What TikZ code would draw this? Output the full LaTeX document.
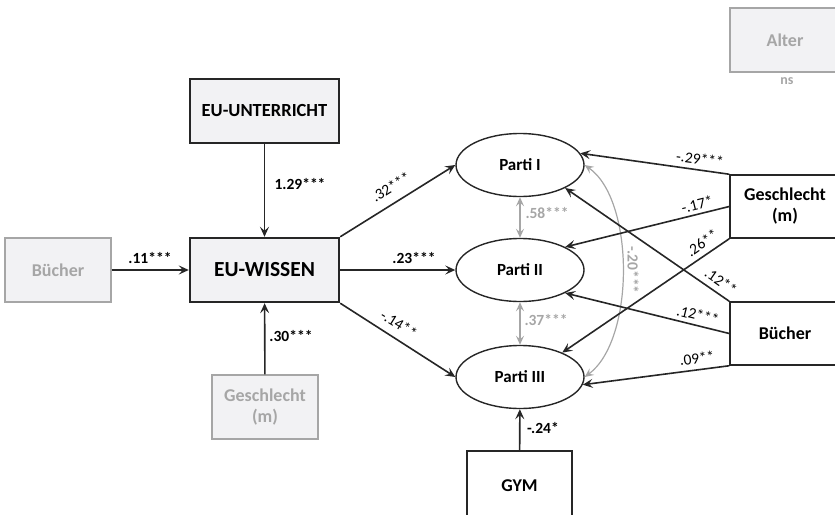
\documentclass[tikz,border=0pt]{standalone}
\usepackage{fontspec}
\setmainfont{Carlito}
\usetikzlibrary{arrows.meta,shapes.geometric}
\definecolor{boxfill}{HTML}{F2F2F4}
\definecolor{ghost}{HTML}{A6A6A6}
\tikzset{
  pfeil/.style={-{Stealth[length=10pt,width=9pt,inset=4pt]},line width=1.6pt,black!85},
  doppel/.style={{Stealth[length=9pt,width=8pt,inset=3.5pt]}-{Stealth[length=9pt,width=8pt,inset=3.5pt]},line width=1.5pt,ghost},
  hauptbox/.style={draw=black!85,line width=2.4pt,fill=boxfill,minimum width=149pt,minimum height=64pt,inner sep=0pt,font=\fontsize{18.5}{20}\selectfont\bfseries},
  kontrolle/.style={draw=black!85,line width=1.5pt,minimum width=110pt,minimum height=63pt,inner sep=0pt,align=center,font=\fontsize{18}{21}\selectfont\bfseries},
  grau/.style={draw=ghost,line width=1.4pt,fill=boxfill,text=ghost,minimum width=106pt,minimum height=64pt,inner sep=0pt,align=center,font=\fontsize{18}{21}\selectfont\bfseries},
  parti/.style={ellipse,draw=black!85,line width=1.4pt,minimum width=128pt,minimum height=63pt,inner sep=0pt,font=\fontsize{17}{20}\selectfont\bfseries},
  koeff/.style={font=\fontsize{15.5}{16}\selectfont\bfseries},
  koeffgrau/.style={koeff,text=ghost},
  schraeg/.style={font=\fontsize{15.5}{16}\selectfont}
}
\begin{document}
\begin{tikzpicture}[x=1pt,y=-1pt]
\useasboundingbox (0,0) rectangle (835,514);
% --- Boxen links ---
\node[hauptbox] (unterricht) at (264.5,111) {EU-UNTERRICHT};
\node[hauptbox,font=\fontsize{21.5}{22}\selectfont\bfseries] (wissen) at (264.5,270) {EU-WISSEN};
\node[grau] (buecherL) at (58,270) {Bücher};
\node[grau] (geschlL) at (265,407) {Geschlecht\\(m)};
% --- Parti ---
\node[parti] (p1) at (520,165) {Parti I};
\node[parti] (p2) at (520,270) {Parti II};
\node[parti] (p3) at (520,377) {Parti III};
% --- Kontrollvariablen rechts ---
\node[grau,minimum width=110pt] (alter) at (785,40) {Alter};
\node[font=\fontsize{14}{14}\selectfont\bfseries,text=ghost] (ns) at (787,81) {ns};
\node[kontrolle] (geschlR) at (785,206.5) {Geschlecht\\(m)};
\node[kontrolle] (buecherR) at (785,333.5) {Bücher};
\node[kontrolle,minimum width=105pt,minimum height=70pt] (gym) at (519.5,486) {GYM};
% --- Pfade zu EU-WISSEN ---
\draw[pfeil] (unterricht) -- (wissen);
\node[koeff] (k1) at (300,184) {1.29***};
\draw[pfeil] (buecherL) -- (wissen);
\node[koeff] (k2) at (150,258) {.11***};
\draw[pfeil] (geschlL) -- (wissen);
\node[koeff] (k3) at (291,336) {.30***};
% --- Pfade zu Parti ---
\draw[pfeil] (wissen.north east) -- (p1.west);
\node[schraeg,rotate=32] (k4) at (391,187) {.32***};
\draw[pfeil] (wissen) -- (p2);
\node[koeff] (k5) at (414,258) {.23***};
\draw[pfeil] (wissen.south east) -- (p3.west);
\node[schraeg,rotate=-32] (k6) at (399,324) {-.14**};
\draw[pfeil] (gym) -- (p3);
\node[koeff] (k7) at (543,428) {-.24*};
% --- Kovarianzen ---
\draw[doppel] (p1) -- (p2);
\node[koeffgrau] (k8) at (547,213) {.58***};
\draw[doppel] (p2) -- (p3);
\node[koeffgrau] (k9) at (546,320) {.37***};
\draw[doppel,line width=1.2pt] (p1.east) .. controls (635,200) and (635,340) .. (p3.east);
\node[koeffgrau,rotate=-90] (k10) at (633,270) {-.20***};
% --- Kontrollen rechts ---
\draw[pfeil] (geschlR.north west) -- (p1.11);
\node[schraeg,rotate=-8] (k11) at (700,159) {-.29***};
\draw[pfeil] (geschlR.west) -- (p2.27);
\node[schraeg,rotate=14] (k12) at (697,204) {-.17*};
\draw[pfeil] (geschlR.south west) -- (p3.30);
\node[schraeg,rotate=35] (k13) at (702,243) {.26**};
\draw[pfeil] (buecherR.north west) -- (p1.-27);
\node[schraeg,rotate=-35] (k14) at (721,281) {.12**};
\draw[pfeil] (buecherR.west) -- (p2.-27);
\node[schraeg,rotate=-14] (k15) at (698,315) {.12***};
\draw[pfeil] (buecherR.south west) -- (p3.-7);
\node[schraeg,rotate=8] (k16) at (697,358) {.09**};
\end{tikzpicture}
\end{document}
